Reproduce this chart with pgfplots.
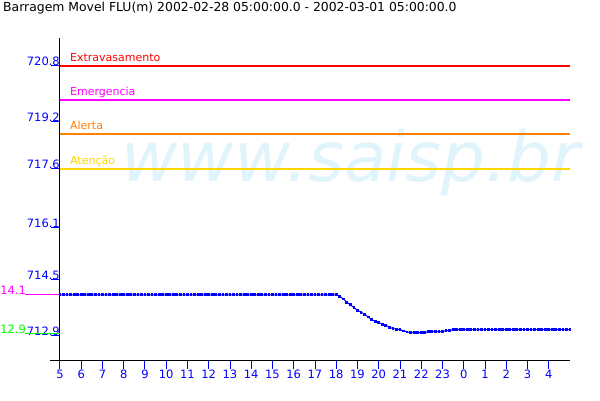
\documentclass[border=0pt]{standalone}
\usepackage{pgfplots}
\pgfplotsset{compat=1.18}
\usepackage{pgfplotstable}
\usepackage{fontspec}
\setmainfont{DejaVu Sans}
\definecolor{cblue}{RGB}{0,0,255}
\definecolor{cred}{RGB}{255,0,0}
\definecolor{cmag}{RGB}{255,0,255}
\definecolor{corange}{RGB}{255,128,0}
\definecolor{cyellow}{RGB}{255,215,0}
\definecolor{cgreen}{RGB}{0,255,0}
\definecolor{cwater}{RGB}{224,244,252}

% minutes since 05:00, level (m)
\pgfplotstableread[row sep=\\]{
t v\\
0 714.08\\ 10 714.08\\ 20 714.08\\ 30 714.08\\ 40 714.08\\ 50 714.08\\ 60 714.08\\ 70 714.08\\ 80 714.08\\ 90 714.08\\
100 714.08\\ 110 714.08\\ 120 714.08\\ 130 714.08\\ 140 714.08\\ 150 714.08\\ 160 714.08\\ 170 714.08\\ 180 714.08\\ 190 714.08\\
200 714.08\\ 210 714.08\\ 220 714.08\\ 230 714.08\\ 240 714.08\\ 250 714.08\\ 260 714.08\\ 270 714.08\\ 280 714.08\\ 290 714.08\\
300 714.08\\ 310 714.08\\ 320 714.08\\ 330 714.08\\ 340 714.08\\ 350 714.08\\ 360 714.08\\ 370 714.08\\ 380 714.08\\ 390 714.08\\
400 714.08\\ 410 714.08\\ 420 714.08\\ 430 714.08\\ 440 714.08\\ 450 714.08\\ 460 714.08\\ 470 714.08\\ 480 714.08\\ 490 714.08\\
500 714.08\\ 510 714.08\\ 520 714.08\\ 530 714.08\\ 540 714.08\\ 550 714.08\\ 560 714.08\\ 570 714.08\\ 580 714.08\\ 590 714.08\\
600 714.08\\ 610 714.08\\ 620 714.08\\ 630 714.08\\ 640 714.08\\ 650 714.08\\ 660 714.08\\ 670 714.08\\ 680 714.08\\ 690 714.08\\
700 714.08\\ 710 714.08\\ 720 714.08\\ 730 714.08\\ 740 714.08\\ 750 714.08\\ 760 714.08\\ 770 714.08\\ 780 714.08\\
790 714.03\\ 800 713.96\\ 810 713.86\\ 820 713.79\\ 830 713.70\\ 840 713.63\\ 850 713.57\\ 860 713.51\\ 870 713.43\\
880 713.35\\ 890 713.30\\ 900 713.26\\ 910 713.22\\ 920 713.19\\ 930 713.13\\ 940 713.09\\ 950 713.07\\ 960 713.06\\
970 713.02\\ 980 712.99\\ 990 712.97\\ 1000 712.97\\ 1010 712.97\\ 1020 712.97\\ 1030 712.97\\ 1040 713.00\\ 1050 713.00\\
1060 713.00\\ 1070 713.00\\ 1080 713.00\\ 1090 713.03\\ 1100 713.03\\ 1110 713.06\\ 1120 713.06\\ 1130 713.06\\ 1140 713.06\\
1150 713.06\\ 1160 713.06\\ 1170 713.06\\ 1180 713.06\\ 1190 713.06\\ 1200 713.06\\ 1210 713.06\\ 1220 713.06\\ 1230 713.06\\
1240 713.06\\ 1250 713.06\\ 1260 713.06\\ 1270 713.06\\ 1280 713.06\\ 1290 713.06\\ 1300 713.06\\ 1310 713.06\\ 1320 713.06\\
1330 713.06\\ 1340 713.06\\ 1350 713.06\\ 1360 713.06\\ 1370 713.06\\ 1380 713.06\\ 1390 713.06\\ 1400 713.06\\ 1410 713.06\\
1420 713.06\\ 1430 713.06\\ 1440 713.06\\
}\level

\pgfplotstableread[row sep=\\]{
t ext eme ale ate\\
0 720.8 719.80 718.80 717.775\\
1440 720.8 719.80 718.80 717.775\\
}\thresholds

\begin{document}
\begin{tikzpicture}[x=1pt,y=1pt]
\fill[white] (0,0) rectangle (600,400);
\node[anchor=base west, inner sep=0pt, text=cwater, font=\fontsize{69}{80}\selectfont\itshape] at (121,219) {www.saisp.br};
\node[anchor=base west, inner sep=0pt, font=\fontsize{12.4}{14}\selectfont] at (3,388) {Barragem Movel FLU(m) 2002-02-28 05:00:00.0 - 2002-03-01 05:00:00.0};
\begin{axis}[
  at={(60pt,40pt)}, anchor=south west,
  scale only axis, width=510pt, height=322pt,
  xmin=0, xmax=1440, ymin=712.166, ymax=721.62,
  axis x line*=bottom, axis y line*=left,
  axis line style={black, line width=1pt, -},
  clip=false,
  xtick={0,60,...,1380},
  xticklabels={5,6,7,8,9,10,11,12,13,14,15,16,17,18,19,20,21,22,23,0,1,2,3,4},
  ytick={712.9,714.515,716.07,717.775,719.18,720.8},
  yticklabels={712.9,714.5,716.1,717.6,719.2,720.8},
  tick align=outside, major tick length=8.5pt,
  tick style={cblue, line width=1pt},
  xticklabel style={text=cblue, font=\fontsize{11.5}{13}\selectfont, anchor=north, inner sep=1pt},
  yticklabel style={text=cblue, font=\fontsize{11.5}{13}\selectfont, anchor=base east, inner sep=0pt, xshift=8.5pt},
]
\draw[black, line width=1pt] (axis cs:-28,712.166) -- (axis cs:0,712.166);
% threshold lines
\addplot[color=cred, line width=1.2pt, mark=none, forget plot, opacity=1] table[x=t, y=ext] {\thresholds};
\addplot[color=cmag, line width=1.2pt, mark=none, forget plot, opacity=1] table[x=t, y=eme] {\thresholds};
\addplot[color=corange, line width=1.2pt, mark=none, forget plot, opacity=1] table[x=t, y=ale] {\thresholds};
\addplot[color=cyellow, line width=1.2pt, mark=none, forget plot, opacity=1] table[x=t, y=ate] {\thresholds};
\node[anchor=base west, inner sep=0pt, text=cred, font=\fontsize{11}{13}\selectfont] at (axis cs:28,720.92) {Extravasamento};
\node[anchor=base west, inner sep=0pt, text=cmag, font=\fontsize{11}{13}\selectfont] at (axis cs:28,719.92) {Emergencia};
\node[anchor=base west, inner sep=0pt, text=corange, font=\fontsize{11}{13}\selectfont] at (axis cs:28,718.92) {Alerta};
\node[anchor=base west, inner sep=0pt, text=cyellow, font=\fontsize{11}{13}\selectfont] at (axis cs:28,717.895) {Atenção};
% level series
\addplot[draw=cblue, line width=1pt, mark=square*, mark size=0.9pt, mark options={solid, fill=cblue, draw=cblue}] table[x=t, y=v] {\level};
% current / minimum markers
\draw[draw=cmag, line width=1.2pt] (axis cs:-99,714.08) -- (axis cs:0,714.08);
\draw[draw=cgreen, line width=1.2pt] (axis cs:-99,712.95) -- (axis cs:0,712.95);
\node[anchor=base west, inner sep=0pt, text=cmag, font=\fontsize{11.5}{13}\selectfont] at (axis cs:-169,714.08) {14.1};
\node[anchor=base west, inner sep=0pt, text=cgreen, font=\fontsize{11.5}{13}\selectfont] at (axis cs:-169,712.95) {12.9};
\end{axis}
\end{tikzpicture}
\end{document}
